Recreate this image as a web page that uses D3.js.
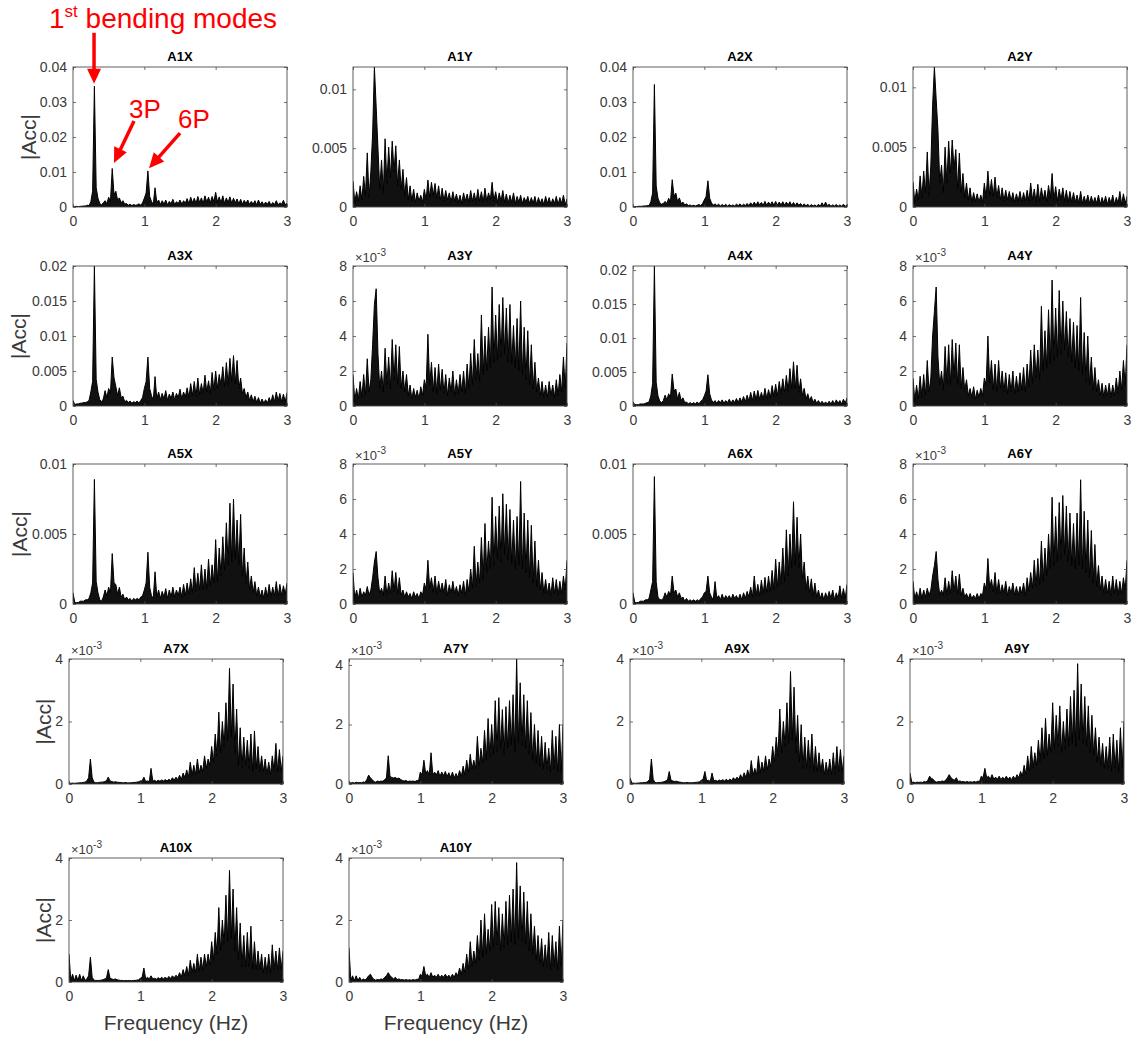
<!DOCTYPE html>
<html>
<head>
<meta charset="utf-8">
<script src="https://cdn.jsdelivr.net/npm/d3@7"></script>
<style>
  body { margin: 0; background: #fff; }
  svg { display: block; font-family: "Liberation Sans", Arial, sans-serif; }
</style>
</head>
<body>
<svg id="chart"></svg>
<script>
// spectra, |Acc| in units of 1e-3, one value every 0.025 Hz from 0 to 3 Hz
const freq = d3.range(121).map(i => +(i * 0.025).toFixed(3));

const A1X = [0.1,0.1,0.2,0.1,0.2,0.2,0.3,0.3,0.5,0.4,
  1.5,4.5,34.5,5.5,2.5,1.0,0.6,1.2,1.8,1.0,
  2.8,1.5,11.0,3.5,4.5,2.0,2.6,1.2,1.8,0.8,
  1.0,0.5,0.8,0.4,0.7,0.5,0.6,0.9,0.5,1.2,
  2.5,4.0,10.3,3.0,1.6,0.8,5.5,1.2,2.0,0.7,
  1.8,0.8,2.0,0.6,1.6,0.9,2.2,0.7,1.5,1.0,
  2.0,0.8,1.8,1.1,2.4,0.9,2.8,1.2,2.5,1.0,
  3.0,1.3,2.6,1.0,3.2,1.4,2.8,1.2,3.0,1.5,
  4.2,1.4,2.9,1.2,3.2,1.0,2.6,1.3,2.9,1.1,
  2.5,1.2,2.3,0.9,2.2,0.8,1.9,1.0,2.0,0.7,
  1.6,0.8,1.8,0.6,2.0,0.7,1.5,0.6,1.4,0.8,
  1.6,0.5,1.3,0.7,1.8,0.6,1.2,0.8,1.9,0.6,1.2];

const A1Y = [2.2,0.4,1.3,0.5,1.8,0.6,2.6,1.0,4.6,0.8,
  3.0,6.2,11.9,8.5,5.0,1.5,4.0,1.2,5.8,2.0,
  5.1,2.5,5.6,3.0,5.2,1.8,4.0,1.5,3.2,1.0,
  2.5,0.6,1.8,0.5,1.5,0.4,1.2,0.5,1.0,0.4,
  1.5,0.6,2.3,0.8,2.1,1.0,2.0,0.7,1.8,0.6,
  1.6,0.5,1.4,0.6,1.2,0.4,1.3,0.5,1.1,0.4,
  1.0,0.3,1.2,0.5,1.1,0.4,1.4,0.5,1.2,0.4,
  1.5,0.5,1.3,0.4,1.6,0.5,1.2,0.6,2.1,0.5,
  1.3,0.4,1.2,0.5,1.4,0.4,1.1,0.3,1.0,0.4,
  1.2,0.3,0.9,0.4,1.0,0.3,0.8,0.4,0.9,0.3,
  0.8,0.3,0.9,0.2,0.8,0.3,0.7,0.2,0.9,0.3,
  0.8,0.2,0.7,0.3,0.9,0.2,0.8,0.3,1.0,0.2,0.7];

const A2X = [0.1,0.1,0.1,0.2,0.2,0.2,0.3,0.3,0.4,0.4,
  1.5,4.0,35.0,6.0,2.5,1.2,0.8,1.0,1.6,1.0,
  2.5,1.4,7.8,3.0,4.0,1.5,2.6,1.0,1.4,0.6,
  0.9,0.4,0.6,0.3,0.5,0.3,0.5,0.7,0.4,1.0,
  2.0,3.0,7.5,2.5,1.2,0.5,0.9,0.4,0.8,0.3,
  0.7,0.3,0.8,0.2,0.7,0.3,0.6,0.3,0.8,0.4,
  0.9,0.3,0.8,0.4,1.0,0.4,1.2,0.5,1.4,0.5,
  1.5,0.6,1.3,0.5,1.6,0.5,1.4,0.6,1.5,0.5,
  1.6,0.5,1.4,0.6,1.5,0.5,1.4,0.6,1.5,0.4,
  1.3,0.4,1.2,0.5,1.0,0.3,0.9,0.3,0.8,0.2,
  0.7,0.3,0.6,0.2,0.8,0.2,1.2,0.3,1.4,0.3,
  0.8,0.2,0.6,0.3,0.7,0.2,0.6,0.2,0.8,0.2,0.6];

const A2Y = [2.1,0.4,1.5,0.6,2.6,0.8,3.0,1.2,4.6,1.0,
  3.5,8.5,11.7,9.0,6.4,2.0,3.5,1.2,5.0,2.0,
  5.5,2.8,5.6,3.2,4.8,1.5,4.5,1.2,2.8,0.8,
  2.0,0.6,1.6,0.4,1.2,0.5,1.1,0.4,1.0,0.4,
  2.0,0.8,3.0,1.0,2.3,0.9,2.5,0.8,1.8,0.6,
  1.6,0.5,1.4,0.6,1.3,0.5,1.2,0.4,1.1,0.5,
  1.3,0.4,1.2,0.5,1.4,0.5,2.0,0.6,1.5,0.4,
  1.9,0.5,1.6,0.6,1.4,0.5,1.8,0.7,2.8,0.6,
  1.7,0.5,1.5,0.6,1.6,0.5,1.4,0.4,1.3,0.4,
  1.2,0.4,1.0,0.3,1.3,0.3,0.9,0.3,1.0,0.3,
  0.9,0.3,0.8,0.3,1.0,0.2,0.8,0.3,0.9,0.2,
  0.8,0.3,1.0,0.2,0.8,0.3,1.3,0.2,1.1,0.3,0.9];

const A3X = [0.8,0.2,0.3,0.3,0.4,0.4,0.5,0.5,0.6,0.8,
  2.0,3.5,20.0,3.8,2.0,0.9,0.6,1.0,2.2,1.2,
  2.5,1.8,7.0,4.0,2.8,1.5,2.6,1.2,1.4,0.6,
  0.8,0.5,0.7,0.4,0.6,0.5,0.7,0.4,0.8,1.2,
  2.5,3.5,7.0,2.5,1.5,0.8,4.2,1.0,2.0,0.9,
  1.8,1.0,2.2,0.8,1.7,1.1,2.0,0.9,1.8,1.2,
  2.4,1.0,2.0,1.3,2.6,1.2,3.2,1.5,3.5,1.4,
  4.0,1.6,3.2,1.8,4.4,2.0,3.6,1.8,4.8,2.2,
  5.0,2.5,4.5,3.0,5.6,2.8,6.2,3.0,6.8,3.5,
  7.2,3.2,6.5,2.5,4.0,1.8,2.5,1.2,2.0,0.8,
  1.6,0.6,1.4,0.5,1.2,0.4,1.0,0.4,0.9,0.4,
  1.2,0.5,1.6,0.6,2.0,0.7,1.8,0.6,1.7,0.6,1.9];

const A3Y = [1.8,0.3,1.0,0.4,1.4,0.5,1.8,0.6,2.7,0.8,
  1.5,3.5,5.8,6.7,3.0,1.0,2.0,0.8,3.3,1.2,
  2.8,1.0,3.8,1.5,3.5,1.2,3.4,1.0,2.0,0.8,
  1.8,0.6,1.2,0.4,1.0,0.5,0.9,0.4,1.1,0.6,
  1.5,1.0,4.1,1.2,2.5,0.8,2.2,0.7,2.4,0.9,
  2.1,0.7,1.8,0.6,1.6,0.8,2.0,0.6,1.5,0.7,
  1.8,0.8,2.0,0.7,2.4,1.0,3.0,1.2,3.8,1.5,
  3.0,1.4,5.2,1.8,4.0,2.0,4.5,2.2,6.8,2.5,
  5.2,2.6,5.8,2.8,6.2,3.0,5.6,2.5,5.8,2.4,
  4.6,2.2,5.0,2.0,6.0,1.8,4.5,1.5,4.3,1.2,
  3.5,1.0,2.5,0.8,1.6,0.6,1.4,0.5,1.2,0.5,
  1.4,0.6,1.2,0.5,1.5,0.6,1.8,0.8,2.8,1.0,3.6];

const A4X = [0.6,0.2,0.2,0.2,0.3,0.3,0.3,0.4,0.5,0.6,
  1.5,3.3,20.6,3.5,1.5,0.7,0.5,0.8,1.6,0.9,
  1.8,1.2,4.7,2.2,2.5,1.0,2.0,0.8,1.2,0.5,
  0.6,0.3,0.5,0.3,0.5,0.3,0.6,0.3,0.7,0.9,
  1.5,2.2,4.6,1.8,0.9,0.5,0.8,0.4,0.8,0.5,
  0.9,0.4,0.8,0.5,1.0,0.4,0.9,0.5,1.1,0.5,
  1.2,0.6,1.4,0.6,1.6,0.7,2.0,0.8,2.2,0.9,
  2.3,1.0,2.0,1.0,2.6,1.1,2.4,1.2,3.0,1.4,
  3.2,1.5,3.6,1.8,4.0,2.0,4.5,2.2,5.5,2.5,
  6.5,2.5,6.0,2.0,4.0,1.5,2.6,1.0,1.8,0.8,
  1.4,0.5,1.0,0.4,0.8,0.3,0.7,0.3,0.6,0.3,
  0.7,0.3,0.8,0.3,0.9,0.4,0.8,0.3,1.0,0.4,1.2];

const A4Y = [1.6,0.3,1.2,0.4,1.7,0.5,1.8,0.6,2.6,0.8,
  1.6,4.0,5.4,6.8,2.8,1.2,2.0,0.9,3.4,1.3,
  3.5,1.2,3.8,1.6,3.6,1.2,3.5,1.0,2.2,0.9,
  1.5,0.6,1.0,0.5,1.1,0.4,0.9,0.5,1.0,0.6,
  1.6,1.2,4.0,1.3,2.6,0.9,2.4,0.8,2.6,1.0,
  2.0,0.8,1.9,0.7,1.8,0.8,2.0,0.7,1.7,0.8,
  1.9,0.9,2.2,0.8,2.4,1.1,3.2,1.3,3.5,1.6,
  3.2,1.5,5.7,2.0,4.3,2.2,5.5,2.4,7.2,2.6,
  5.6,2.8,6.6,3.0,6.0,3.2,5.4,2.8,5.0,2.5,
  4.8,2.2,4.6,2.0,6.2,1.8,4.2,1.4,4.0,1.2,
  2.8,0.9,2.2,0.8,1.5,0.6,1.3,0.5,1.2,0.6,
  1.3,0.5,1.2,0.6,1.6,0.7,2.0,0.9,2.6,1.2,3.5];

const A5X = [0.8,0.1,0.1,0.1,0.2,0.2,0.2,0.3,0.3,0.4,
  0.8,1.5,8.9,1.6,0.8,0.3,0.2,0.5,1.0,0.6,
  1.2,0.8,3.6,1.5,1.4,0.7,1.2,0.5,0.7,0.3,
  0.5,0.3,0.4,0.2,0.4,0.3,0.4,0.3,0.5,0.6,
  1.0,1.5,3.7,1.2,0.6,0.4,2.3,0.5,1.0,0.4,
  0.9,0.5,1.1,0.4,1.0,0.5,1.2,0.5,1.0,0.6,
  1.2,0.5,1.4,0.6,1.5,0.7,1.8,0.8,2.6,0.9,
  2.2,1.0,2.8,1.0,2.5,1.1,3.2,1.3,2.8,1.5,
  4.6,1.6,4.0,2.0,4.8,2.4,5.8,2.8,7.2,3.0,
  7.5,3.2,6.0,2.8,6.4,2.0,4.0,1.4,3.0,1.0,
  2.0,0.8,1.6,0.6,1.2,0.5,1.0,0.4,1.2,0.5,
  1.4,0.5,1.2,0.6,1.6,0.5,1.4,0.6,1.3,0.7,1.5];

const A5Y = [1.8,0.3,0.8,0.3,0.9,0.4,0.7,0.5,1.0,0.5,
  0.8,1.5,2.4,3.0,1.5,0.6,0.9,0.5,1.6,0.5,
  1.2,0.6,1.9,0.7,1.8,0.6,1.5,0.5,0.8,0.4,
  0.7,0.4,0.6,0.3,0.7,0.4,0.6,0.3,0.7,0.5,
  1.2,0.8,2.5,0.9,1.5,0.7,1.6,0.6,1.3,0.7,
  1.2,0.6,1.4,0.5,1.1,0.6,1.3,0.6,1.0,0.5,
  1.1,0.6,1.3,0.5,1.4,0.7,2.0,0.9,3.3,1.0,
  2.4,1.2,3.8,1.4,4.6,1.8,3.6,2.0,6.1,2.2,
  5.0,2.6,5.6,2.4,6.3,2.8,5.7,2.5,5.4,2.3,
  4.8,2.0,5.0,2.2,7.0,2.0,5.2,1.8,4.8,1.5,
  4.5,1.2,3.6,1.0,2.5,0.8,1.8,0.6,1.4,0.6,
  1.2,0.5,1.5,0.6,1.4,0.5,1.3,0.6,1.6,0.8,2.5];

const A6X = [0.8,0.1,0.1,0.1,0.2,0.2,0.2,0.3,0.3,0.4,
  1.0,1.6,9.1,1.6,0.5,0.3,0.3,0.4,0.8,0.5,
  0.9,0.6,2.0,0.8,1.0,0.5,0.8,0.4,0.5,0.2,
  0.4,0.2,0.3,0.2,0.3,0.2,0.3,0.2,0.4,0.5,
  0.8,0.9,2.0,0.8,0.5,0.3,1.6,0.4,0.6,0.3,
  0.7,0.3,0.6,0.4,0.6,0.3,0.7,0.4,0.6,0.3,
  0.7,0.3,0.8,0.4,0.9,0.5,1.2,0.5,2.0,0.6,
  1.4,0.6,1.7,0.7,1.9,0.8,2.0,0.9,2.4,1.0,
  3.2,1.2,3.0,1.4,4.0,1.6,5.3,2.0,5.0,2.6,
  7.3,2.8,6.2,2.6,5.0,1.8,3.0,1.0,2.0,0.8,
  1.8,0.6,1.5,0.5,1.0,0.4,0.8,0.3,0.8,0.4,
  0.9,0.4,1.0,0.3,0.8,0.4,1.3,0.4,1.1,0.4,1.4];

const A6Y = [1.3,0.3,0.7,0.3,0.9,0.3,0.8,0.4,0.9,0.5,
  0.8,1.6,2.2,3.0,1.4,0.5,0.8,0.5,1.5,0.5,
  1.3,0.6,1.9,0.7,1.6,0.6,1.7,0.5,0.9,0.4,
  0.6,0.3,0.6,0.3,0.5,0.3,0.6,0.3,0.6,0.5,
  1.2,0.8,2.6,0.9,1.4,0.7,1.8,0.6,1.4,0.6,
  1.1,0.6,1.3,0.5,1.0,0.6,1.2,0.5,1.0,0.5,
  1.0,0.6,1.2,0.5,1.5,0.7,1.8,0.9,2.5,1.0,
  2.6,1.1,3.6,1.3,3.2,1.6,4.0,2.0,6.1,2.2,
  5.0,2.4,5.8,2.6,6.2,2.8,5.6,2.4,5.2,2.2,
  4.6,2.0,5.2,2.2,7.1,2.0,5.3,1.8,4.8,1.5,
  4.2,1.2,3.4,1.0,2.2,0.8,1.6,0.6,1.4,0.6,
  1.3,0.5,1.6,0.6,1.4,0.5,1.3,0.6,1.5,0.8,2.5];

const A7X = [0.05,0.02,0.03,0.02,0.03,0.03,0.04,0.04,0.05,0.06,
  0.1,0.2,0.8,0.2,0.06,0.04,0.04,0.05,0.06,0.06,
  0.08,0.1,0.22,0.1,0.08,0.06,0.07,0.06,0.05,0.05,
  0.04,0.04,0.05,0.03,0.04,0.04,0.05,0.05,0.06,0.07,
  0.1,0.1,0.22,0.08,0.1,0.07,0.5,0.09,0.12,0.08,
  0.12,0.09,0.13,0.1,0.14,0.1,0.15,0.11,0.2,0.12,
  0.22,0.14,0.28,0.15,0.35,0.2,0.45,0.22,0.7,0.28,
  0.6,0.3,0.8,0.35,0.6,0.4,0.9,0.5,0.8,0.6,
  1.2,0.7,1.6,0.9,2.3,1.0,2.0,1.2,2.6,1.4,
  3.7,1.5,3.2,1.0,2.4,0.6,1.8,0.5,1.5,0.6,
  1.4,0.5,1.6,0.4,1.7,0.5,1.2,0.4,0.9,0.4,
  0.8,0.3,0.7,0.3,0.9,0.4,1.3,0.4,1.1,0.4,0.9];

const A7Y = [0.08,0.03,0.05,0.03,0.06,0.04,0.05,0.04,0.07,0.05,
  0.15,0.3,0.2,0.15,0.08,0.06,0.1,0.08,0.1,0.09,
  0.15,0.2,0.95,0.25,0.22,0.2,0.22,0.18,0.2,0.15,
  0.12,0.1,0.12,0.08,0.1,0.09,0.1,0.08,0.12,0.1,
  0.4,0.3,0.8,0.35,0.45,0.3,1.05,0.3,0.4,0.3,
  0.45,0.25,0.4,0.28,0.42,0.25,0.38,0.22,0.4,0.2,
  0.35,0.22,0.45,0.25,0.6,0.3,0.8,0.4,1.0,0.5,
  0.8,0.5,1.6,0.6,1.2,0.7,1.8,0.8,2.2,0.9,
  2.0,1.0,2.8,1.1,2.9,1.2,2.5,1.0,2.6,1.2,
  2.8,1.3,3.0,1.1,4.2,1.4,3.4,1.3,3.0,1.2,
  2.8,1.0,2.4,0.8,2.0,0.7,1.8,0.6,1.6,0.5,
  1.4,0.5,1.2,0.4,1.8,0.5,1.6,0.4,2.0,0.4,2.0];

const A9X = [0.2,0.03,0.03,0.02,0.03,0.03,0.04,0.04,0.05,0.05,
  0.08,0.15,0.8,0.15,0.05,0.04,0.05,0.05,0.06,0.07,
  0.1,0.12,0.4,0.12,0.1,0.08,0.09,0.07,0.06,0.05,
  0.04,0.04,0.05,0.04,0.04,0.04,0.05,0.05,0.06,0.07,
  0.12,0.15,0.4,0.1,0.12,0.08,0.35,0.1,0.12,0.09,
  0.13,0.1,0.14,0.1,0.15,0.1,0.16,0.11,0.2,0.13,
  0.22,0.15,0.3,0.16,0.36,0.2,0.45,0.22,0.75,0.28,
  0.5,0.3,0.9,0.35,0.7,0.4,0.9,0.45,0.8,0.55,
  1.2,0.7,1.5,0.9,2.4,1.0,2.0,1.2,2.6,1.3,
  3.6,1.4,3.1,1.0,2.2,0.7,1.9,0.5,1.5,0.5,
  1.4,0.5,1.6,0.4,1.2,0.4,1.0,0.4,0.8,0.3,
  0.7,0.3,0.8,0.3,1.0,0.3,1.2,0.4,1.1,0.4,0.9];

const A9Y = [0.35,0.05,0.06,0.04,0.06,0.05,0.06,0.05,0.08,0.06,
  0.12,0.25,0.18,0.15,0.08,0.06,0.08,0.07,0.1,0.08,
  0.12,0.2,0.3,0.2,0.15,0.12,0.2,0.08,0.1,0.07,
  0.08,0.06,0.08,0.06,0.07,0.06,0.08,0.06,0.09,0.08,
  0.25,0.2,0.5,0.2,0.25,0.15,0.3,0.15,0.22,0.15,
  0.25,0.14,0.22,0.15,0.25,0.15,0.22,0.14,0.25,0.15,
  0.3,0.2,0.4,0.25,0.6,0.3,0.9,0.4,1.2,0.5,
  1.0,0.6,1.4,0.7,1.8,0.8,2.1,0.9,1.6,1.0,
  2.6,1.1,2.2,1.2,2.5,1.0,2.0,1.1,2.4,1.2,
  2.8,1.3,3.0,1.2,3.85,1.4,3.2,1.3,2.8,1.2,
  2.5,1.0,2.2,0.9,1.8,0.7,1.5,0.6,1.3,0.5,
  1.2,0.5,1.5,0.4,1.6,0.5,1.4,0.4,1.8,0.5,2.0];

const A10X = [0.9,0.05,0.25,0.04,0.22,0.05,0.25,0.04,0.2,0.05,
  0.1,0.2,0.8,0.15,0.06,0.05,0.05,0.05,0.06,0.07,
  0.1,0.12,0.4,0.12,0.1,0.08,0.1,0.07,0.06,0.05,
  0.05,0.04,0.05,0.04,0.05,0.04,0.05,0.05,0.06,0.07,
  0.12,0.15,0.45,0.1,0.15,0.1,0.2,0.1,0.12,0.09,
  0.14,0.1,0.15,0.1,0.16,0.1,0.18,0.11,0.2,0.13,
  0.22,0.15,0.3,0.16,0.4,0.2,0.5,0.22,0.7,0.3,
  0.6,0.3,0.9,0.35,0.8,0.4,0.9,0.5,0.9,0.55,
  1.3,0.7,1.6,0.9,2.4,1.0,2.0,1.2,2.8,1.3,
  3.6,1.4,3.0,1.0,2.4,0.7,1.9,0.5,1.5,0.5,
  1.6,0.5,1.8,0.4,1.3,0.4,1.0,0.4,0.9,0.3,
  0.8,0.3,0.9,0.3,1.2,0.4,1.0,0.4,1.1,0.4,1.0];

const A10Y = [1.1,0.05,0.2,0.04,0.2,0.05,0.15,0.05,0.1,0.06,
  0.12,0.2,0.25,0.15,0.08,0.06,0.08,0.07,0.1,0.08,
  0.15,0.2,0.3,0.2,0.15,0.1,0.15,0.08,0.1,0.07,
  0.08,0.06,0.08,0.06,0.07,0.06,0.08,0.06,0.09,0.08,
  0.25,0.2,0.5,0.2,0.25,0.15,0.3,0.15,0.22,0.15,
  0.25,0.14,0.22,0.15,0.25,0.15,0.22,0.14,0.25,0.15,
  0.3,0.2,0.45,0.25,0.6,0.3,0.9,0.4,1.3,0.5,
  1.0,0.6,1.5,0.7,2.0,0.8,2.2,0.9,1.7,1.0,
  2.5,1.1,2.6,1.2,2.4,1.0,2.2,1.1,2.6,1.2,
  2.8,1.3,3.0,1.2,3.85,1.4,3.1,1.3,2.9,1.2,
  2.6,1.0,2.2,0.9,1.8,0.7,1.5,0.6,1.4,0.5,
  1.2,0.5,1.6,0.4,1.5,0.5,1.3,0.4,1.8,0.5,2.0];

const names = ["A1X","A1Y","A2X","A2Y","A3X","A3Y","A4X","A4Y","A5X","A5Y",
  "A6X","A6Y","A7X","A7Y","A9X","A9Y","A10X","A10Y"];
const series = [A1X,A1Y,A2X,A2Y,A3X,A3Y,A4X,A4Y,A5X,A5Y,A6X,A6Y,A7X,A7Y,A9X,A9Y,A10X,A10Y];
const yMax = [0.04,0.0119,0.04,0.0117,0.02,0.008,0.0206,0.008,0.01,0.008,
  0.01,0.008,0.004,0.0042,0.004,0.004,0.004,0.004];
const yTicks = [
  [0,0.01,0.02,0.03,0.04],[0,0.005,0.01],[0,0.01,0.02,0.03,0.04],[0,0.005,0.01],
  [0,0.005,0.01,0.015,0.02],[0,0.002,0.004,0.006,0.008],[0,0.005,0.01,0.015,0.02],[0,0.002,0.004,0.006,0.008],
  [0,0.005,0.01],[0,0.002,0.004,0.006,0.008],[0,0.005,0.01],[0,0.002,0.004,0.006,0.008],
  [0,0.002,0.004],[0,0.002,0.004],[0,0.002,0.004],[0,0.002,0.004],[0,0.002,0.004],[0,0.002,0.004]];
const sciScale = [false,false,false,false,false,true,false,true,false,true,false,true,
  true,true,true,true,true,true];
const xTicks = [0,1,2,3];

// layout
const W = 1135, H = 1038;
const colLeft = [[73,353,633,913],[73,353,633,913],[73,353,633,913],[69,349,630,910],[69,349,630,910]];
const rowTop = [67,266,464,659,858];
const rowH = [140,140,140,125,124];
const panelW = 214;
const ylabelX = [36,26,27,51,51];
const axisColor = "#4d4d4d", textColor = "#3a3a3a";

const svg = d3.select("#chart").attr("width", W).attr("height", H);
svg.append("rect").attr("width", W).attr("height", H).attr("fill", "#fff");
const defs = svg.append("defs");

const scales = [];

series.forEach((vals, k) => {
  const row = Math.floor(k / 4), col = k % 4;
  const left = colLeft[row][col], top = rowTop[row], h = rowH[row];
  const x = d3.scaleLinear().domain([0, 3]).range([0, panelW]);
  const y = d3.scaleLinear().domain([0, yMax[k]]).range([h, 0]);
  scales.push({ x, y, left, top });

  const g = svg.append("g").attr("transform", `translate(${left},${top})`);

  defs.append("clipPath").attr("id", "clip" + k)
    .append("rect").attr("width", panelW).attr("height", h);

  // dense noisy spectrum: filled under the trace, trace drawn on top
  const area = d3.area()
    .x((d, i) => x(freq[i]))
    .y0(h)
    .y1(d => y(d * 1e-3));

  const line = d3.line()
    .x((d, i) => x(freq[i]))
    .y(d => y(d * 1e-3));

  g.append("path")
    .datum(vals)
    .attr("clip-path", `url(#clip${k})`)
    .attr("fill", "#111")
    .attr("d", area);

  g.append("path")
    .datum(vals)
    .attr("clip-path", `url(#clip${k})`)
    .attr("fill", "none")
    .attr("stroke", "#000")
    .attr("stroke-width", 1)
    .attr("stroke-linejoin", "bevel")
    .attr("d", line);

  const fmt = sciScale[k] ? (v => String(Math.round(v * 1000))) : (v => String(+v.toFixed(4)));

  const axB = g.append("g").attr("transform", `translate(0,${h})`)
    .call(d3.axisBottom(x).tickValues(xTicks).tickSize(-3).tickPadding(9).tickFormat(d3.format("d")));
  const axT = g.append("g")
    .call(d3.axisTop(x).tickValues(xTicks).tickSize(-3).tickFormat(""));
  const axL = g.append("g")
    .call(d3.axisLeft(y).tickValues(yTicks[k]).tickSize(-3).tickPadding(6).tickFormat(fmt));
  const axR = g.append("g").attr("transform", `translate(${panelW},0)`)
    .call(d3.axisRight(y).tickValues(yTicks[k]).tickSize(-3).tickFormat(""));

  [axB, axT, axL, axR].forEach(a => {
    a.select(".domain").remove();
    a.selectAll(".tick line").attr("stroke", axisColor).attr("stroke-width", 0.8);
    a.selectAll(".tick text").attr("fill", textColor)
      .style("font-size", "14px").style("font-family", "'Liberation Sans', Arial, sans-serif");
  });

  g.append("rect")
    .attr("width", panelW).attr("height", h)
    .attr("fill", "none").attr("stroke", axisColor).attr("stroke-width", 0.9);

  g.append("text")
    .attr("x", panelW / 2).attr("y", -6)
    .attr("text-anchor", "middle")
    .attr("font-weight", "bold").attr("font-size", 13)
    .attr("fill", "#000")
    .text(names[k]);

  if (sciScale[k]) {
    const t = g.append("text").attr("x", 2).attr("y", -4)
      .attr("font-size", 13).attr("fill", textColor);
    t.append("tspan").text("\u00d710");
    t.append("tspan").attr("dy", -6).attr("font-size", 10).text("-3");
  }

  if (col === 0) {
    svg.append("text")
      .attr("transform", `translate(${ylabelX[row]},${top + h / 2}) rotate(-90)`)
      .attr("text-anchor", "middle")
      .attr("font-size", 21).attr("fill", textColor)
      .text("|Acc|");
  }
  if (row === 4) {
    svg.append("text")
      .attr("x", left + panelW / 2).attr("y", 1030)
      .attr("text-anchor", "middle")
      .attr("font-size", 21).attr("fill", textColor)
      .text("Frequency (Hz)");
  }
});

// annotations on A1X
const red = "#ff0000";
const s0 = scales[0];
const arrows = [
  { f: 0.295, v: 0.0352, dx: 0, dy: -51 },
  { f: 0.575, v: 0.0126, dx: 20, dy: -42 },
  { f: 1.066, v: 0.0111, dx: 31, dy: -35 }
];
arrows.forEach(a => {
  const tx = s0.left + s0.x(a.f), ty = s0.top + s0.y(a.v);
  const sx = tx + a.dx, sy = ty + a.dy;
  const len = Math.hypot(a.dx, a.dy);
  const ux = -a.dx / len, uy = -a.dy / len;
  const headL = 15, headW = 7;
  const bx = tx - ux * headL, by = ty - uy * headL;
  svg.append("line")
    .attr("x1", sx).attr("y1", sy).attr("x2", bx + ux * 1).attr("y2", by + uy * 1)
    .attr("stroke", red).attr("stroke-width", 3.5);
  const px = -uy, py = ux;
  svg.append("path")
    .attr("d", `M${tx},${ty}L${bx + px * headW},${by + py * headW}L${bx - px * headW},${by - py * headW}Z`)
    .attr("fill", red);
});

const t1 = svg.append("text").attr("x", s0.left - 24).attr("y", s0.top - 39)
  .attr("font-size", 28).attr("fill", red);
t1.append("tspan").text("1");
t1.append("tspan").attr("dy", -11).attr("font-size", 17).text("st");
t1.append("tspan").attr("dy", 11).text(" bending modes");

svg.append("text").attr("x", s0.left + 56).attr("y", s0.top + 51)
  .attr("font-size", 26).attr("fill", red).text("3P");
svg.append("text").attr("x", s0.left + 105).attr("y", s0.top + 61)
  .attr("font-size", 26).attr("fill", red).text("6P");
</script>
</body>
</html>
